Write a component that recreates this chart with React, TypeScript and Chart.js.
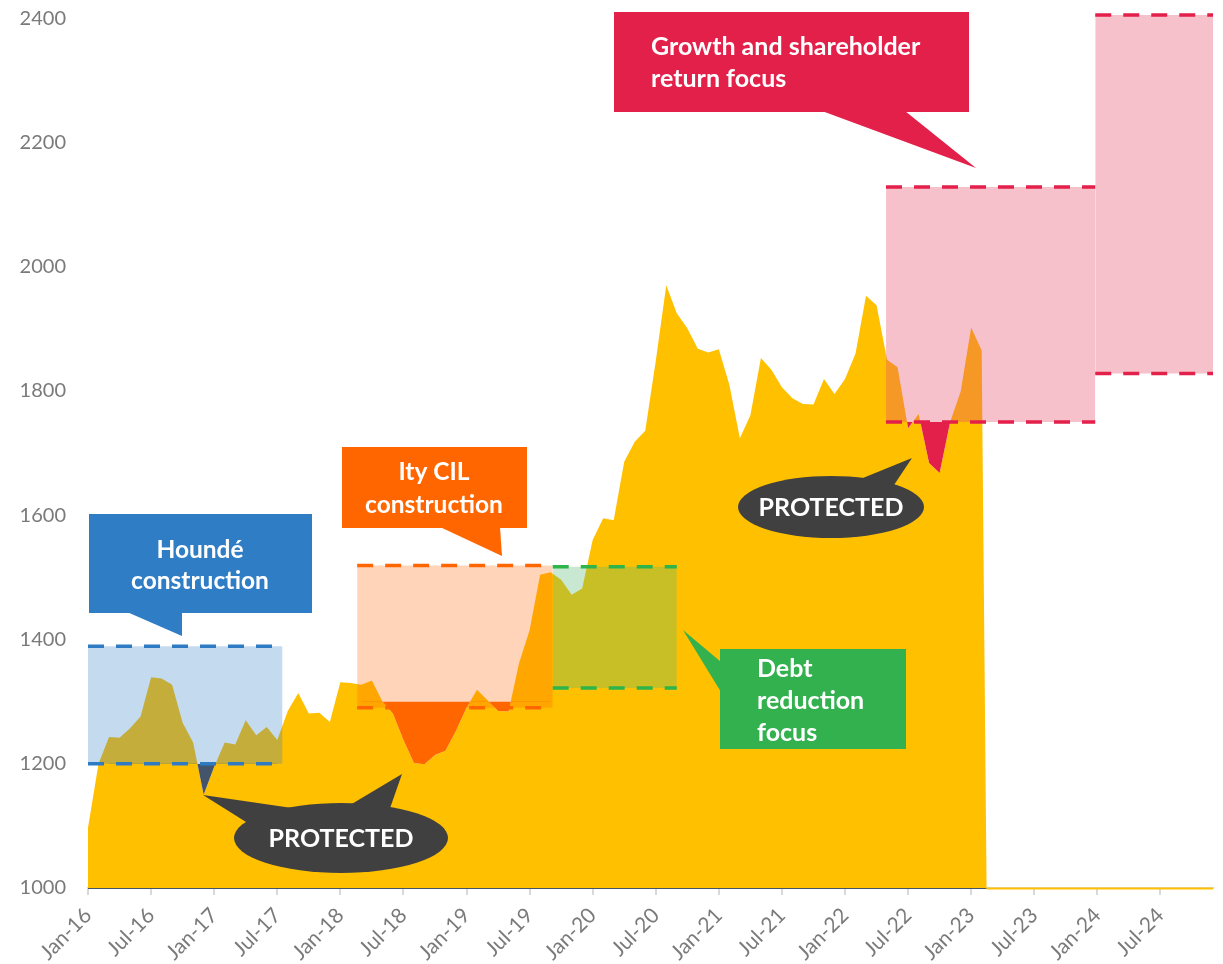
import React, { useEffect, useRef } from "react";
import { Chart, registerables } from "chart.js";

Chart.register(...registerables);

// Monthly gold price (US$/oz), Jan-16 to Feb-23
const goldPrice = [
  1097, 1200, 1243, 1242, 1257, 1276, 1339, 1337, 1327, 1266, 1234, 1150,
  1195, 1234, 1231, 1270, 1246, 1259, 1238, 1285, 1314, 1281, 1282, 1267,
  1331, 1330, 1327, 1334, 1300, 1281, 1238, 1201, 1199, 1214, 1221, 1253,
  1290, 1319, 1302, 1285, 1284, 1362, 1415, 1504, 1508, 1496, 1472, 1482,
  1560, 1595, 1592, 1686, 1718, 1736, 1848, 1970, 1925, 1901, 1868, 1862,
  1867, 1810, 1724, 1761, 1853, 1834, 1806, 1788, 1779, 1778, 1819, 1795,
  1819, 1860, 1953, 1938, 1850, 1838, 1740, 1763, 1684, 1668, 1750, 1799,
  1902, 1865,
];
// Mar-23 to Dec-24 have no price yet; the sheet holds zeros there
const pendingPrice = [
  0, 0, 0, 0, 0, 0, 0, 0, 0, 0,
  0, 0, 0, 0, 0, 0, 0, 0, 0, 0,
  0, 0,
];

// Axis labels: one every six months starting Jan-16 (month index 0)
const tickLabels = [
  "Jan-16", "Jul-16", "Jan-17", "Jul-17", "Jan-18", "Jul-18",
  "Jan-19", "Jul-19", "Jan-20", "Jul-20", "Jan-21", "Jul-21",
  "Jan-22", "Jul-22", "Jan-23", "Jul-23", "Jan-24", "Jul-24",
];
const tickStep = 6;
const yTicks = [1000, 1200, 1400, 1600, 1800, 2000, 2200, 2400];

// Gold price planning bands (month index range, low / high price)
const bandStart = [0, 25.6, 44.2, 75.9, 95.8];
const bandEnd = [18.5, 44.2, 56, 95.8, 107];
const bandLow = [1200, 1290, 1322, 1750, 1828];
const bandHigh = [1389, 1519, 1517, 2128, 2405];

// Price dips protected below each band floor (month index range, floor)
const protectedFrom = [2, 26, 76];
const protectedTo = [18, 44, 85];
const protectedFloor = [1200, 1300, 1750];

const GOLD = "#FFC000";
const bandLineColor = ["#2E7BC4", "#FF6600", "#2DB44B", "#E3204A", "#E3204A"];
const bandFillColor = [
  "rgba(52,129,199,0.29)",
  "rgba(255,102,0,0.28)",
  "rgba(87,186,114,0.33)",
  "rgba(229,77,106,0.35)",
  "rgba(229,77,106,0.35)",
];
const protectedColor = ["#44546A", "#FF6600", "#E3204A"];

const FONT = "Lato, 'Open Sans', sans-serif";

type Pt = [number, number];
type Callout = {
  color: string;
  rect?: [number, number, number, number];
  ellipse?: [number, number, number, number];
  pointers: Pt[][];
  lines: string[];
  align: "center" | "left";
  textX: number;
  textY: number;
  gap: number;
  size: number;
};

const callouts: Callout[] = [
  {
    color: "#2E7DC5",
    rect: [89, 514, 223, 99],
    pointers: [[[127, 612], [182, 612], [182, 636]]],
    lines: ["Houndé", "construction"],
    align: "center", textX: 200, textY: 550, gap: 31, size: 24.5,
  },
  {
    color: "#FF6600",
    rect: [342, 447, 185, 81],
    pointers: [[[440, 527], [500, 527], [502, 556]]],
    lines: ["Ity CIL", "construction"],
    align: "center", textX: 434, textY: 472, gap: 33, size: 24.5,
  },
  {
    color: "#33B14F",
    rect: [720, 649, 186, 100],
    pointers: [[[721, 662], [721, 692], [683, 630]]],
    lines: ["Debt", "reduction", "focus"],
    align: "left", textX: 757, textY: 669, gap: 32, size: 25,
  },
  {
    color: "#E3204A",
    rect: [614, 12, 355, 100],
    pointers: [[[822, 111], [905, 111], [976, 168]]],
    lines: ["Growth and shareholder", "return focus"],
    align: "left", textX: 651, textY: 47, gap: 32, size: 25,
  },
  {
    color: "#404040",
    ellipse: [341, 838, 107, 35],
    pointers: [
      [[203, 795], [292, 808], [262, 832]],
      [[402, 774], [345, 808], [388, 814]],
    ],
    lines: ["PROTECTED"],
    align: "center", textX: 341, textY: 839, gap: 0, size: 25,
  },
  {
    color: "#404040",
    ellipse: [831, 507, 93, 31],
    pointers: [[[912, 458], [858, 480], [892, 488]]],
    lines: ["PROTECTED"],
    align: "center", textX: 831, textY: 508, gap: 0, size: 25,
  },
];

const series = goldPrice.concat(pendingPrice);

// Baseline under the price area: dark while prices exist, gold afterwards
const baselinePlugin = {
  id: "baseline",
  afterDatasetsDraw(chart: any) {
    const { ctx, chartArea, scales } = chart;
    let cross = series.length - 1;
    for (let i = 0; i < series.length - 1; i++) {
      if (series[i] >= 1000 && series[i + 1] < 1000) {
        cross = i + (series[i] - 1000) / (series[i] - series[i + 1]);
        break;
      }
    }
    const xc = scales.x.getPixelForValue(cross);
    const y = chartArea.bottom + 0.5;
    ctx.save();
    ctx.lineWidth = 1.2;
    ctx.strokeStyle = "#44546A";
    ctx.beginPath();
    ctx.moveTo(chartArea.left, y);
    ctx.lineTo(xc, y);
    ctx.stroke();
    ctx.lineWidth = 2;
    ctx.strokeStyle = GOLD;
    ctx.beginPath();
    ctx.moveTo(xc, y);
    ctx.lineTo(chartArea.right, y);
    ctx.stroke();
    ctx.restore();
  },
};

const calloutPlugin = {
  id: "callouts",
  afterDraw(chart: any) {
    const ctx: CanvasRenderingContext2D = chart.ctx;
    ctx.save();
    for (const c of callouts) {
      ctx.fillStyle = c.color;
      if (c.rect) {
        const [x, y, w, h] = c.rect;
        ctx.fillRect(x, y, w, h);
      }
      if (c.ellipse) {
        const [cx, cy, rx, ry] = c.ellipse;
        ctx.beginPath();
        ctx.ellipse(cx, cy, rx, ry, 0, 0, Math.PI * 2);
        ctx.fill();
      }
      for (const p of c.pointers) {
        ctx.beginPath();
        ctx.moveTo(p[0][0], p[0][1]);
        for (let i = 1; i < p.length; i++) ctx.lineTo(p[i][0], p[i][1]);
        ctx.closePath();
        ctx.fill();
      }
      ctx.fillStyle = "#FFFFFF";
      ctx.font = `bold ${c.size}px ${FONT}`;
      ctx.textAlign = c.align;
      ctx.textBaseline = "middle";
      c.lines.forEach((t, i) => ctx.fillText(t, c.textX, c.textY + i * c.gap));
    }
    ctx.restore();
  },
};

export default function App() {
  const ref = useRef<HTMLCanvasElement>(null);

  useEffect(() => {
    const canvas = ref.current;
    if (!canvas) return;

    const seg = (from: number, to: number) =>
      series.slice(from, to + 1).map((y, i) => ({ x: from + i, y }));

    const datasets: any[] = [];

    bandStart.forEach((s, k) => {
      datasets.push({
        label: `band${k}-high`,
        data: [{ x: s, y: bandHigh[k] }, { x: bandEnd[k], y: bandHigh[k] }],
        borderColor: bandLineColor[k],
        borderWidth: 3.5,
        borderDash: [16, 12],
        borderCapStyle: "butt",
        backgroundColor: bandFillColor[k],
        fill: "+1",
        pointRadius: 0,
      });
      datasets.push({
        label: `band${k}-low`,
        data: [{ x: s, y: bandLow[k] }, { x: bandEnd[k], y: bandLow[k] }],
        borderColor: bandLineColor[k],
        borderWidth: 3.5,
        borderDash: [16, 12],
        borderCapStyle: "butt",
        backgroundColor: "rgba(0,0,0,0)",
        fill: false,
        pointRadius: 0,
      });
    });

    protectedFrom.forEach((from, k) => {
      datasets.push({
        label: `protected${k}`,
        data: seg(from, protectedTo[k]),
        borderColor: "rgba(0,0,0,0)",
        borderWidth: 0,
        backgroundColor: protectedColor[k],
        fill: {
          target: { value: protectedFloor[k] },
          above: "rgba(0,0,0,0)",
          below: protectedColor[k],
        },
        pointRadius: 0,
      });
    });

    datasets.push({
      label: "Gold price",
      data: series.map((y, i) => ({ x: i, y })),
      borderColor: "rgba(0,0,0,0)",
      borderWidth: 0,
      backgroundColor: GOLD,
      fill: "start",
      pointRadius: 0,
    });

    const chart = new Chart(canvas, {
      type: "line",
      data: { datasets },
      options: {
        animation: false,
        responsive: false,
        events: [],
        layout: { padding: { top: 10, right: 10, left: 0, bottom: 0 } },
        elements: { line: { tension: 0 } },
        plugins: {
          legend: { display: false },
          tooltip: { enabled: false },
          filler: { drawTime: "beforeDatasetsDraw" },
        },
        scales: {
          x: {
            type: "linear",
            min: 0,
            max: series.length - 1,
            afterBuildTicks: (scale: any) => {
              scale.ticks = tickLabels.map((_, i) => ({ value: i * tickStep }));
            },
            afterFit: (scale: any) => {
              scale.height = 76;
              scale.paddingLeft = 0;
              scale.paddingRight = 0;
            },
            ticks: {
              autoSkip: false,
              minRotation: 45,
              maxRotation: 45,
              padding: 8,
              color: "#7A7A7A",
              font: { family: FONT, size: 21 },
              callback: (v: any) => tickLabels[Math.round(v / tickStep)] ?? "",
            },
            grid: {
              display: true,
              drawOnChartArea: false,
              drawTicks: true,
              tickLength: 7,
              tickColor: "#D9D9D9",
              lineWidth: 2,
            },
            border: { display: true, color: "#D9D9D9", width: 2 },
          },
          y: {
            type: "linear",
            min: 1000,
            max: 2413,
            afterBuildTicks: (scale: any) => {
              scale.ticks = yTicks.map((v) => ({ value: v }));
            },
            afterFit: (scale: any) => {
              scale.width = 88;
              scale.paddingTop = 0;
              scale.paddingBottom = 0;
            },
            ticks: {
              padding: 22,
              color: "#7A7A7A",
              font: { family: FONT, size: 20 },
              callback: (v: any) => String(v),
            },
            grid: { display: false, drawTicks: false },
            border: { display: false },
          },
        },
      },
      plugins: [baselinePlugin, calloutPlugin],
    });

    return () => chart.destroy();
  }, []);

  return (
    <div style={{ position: "fixed", left: 0, top: 0, width: 1223, height: 964, background: "#FFFFFF" }}>
      <canvas ref={ref} width={1223} height={964} style={{ display: "block" }} />
    </div>
  );
}
